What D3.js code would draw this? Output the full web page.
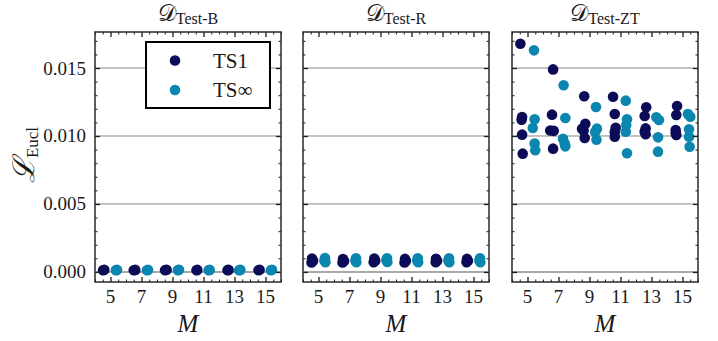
<!DOCTYPE html>
<html>
<head>
<meta charset="utf-8">
<script src="https://cdn.jsdelivr.net/npm/d3@7"></script>
<style>
  body { margin: 0; background: #fff; }
  text { font-family: "Liberation Serif", "DejaVu Serif", serif; fill: #1a1a1a; }
</style>
</head>
<body>
<div id="chart"></div>
<script>
// ---- data ----
const panelNames = ["Test-B", "Test-R", "Test-ZT"];
const mTicks = [5, 7, 9, 11, 13, 15];
const lossTicks = [0, 0.005, 0.010, 0.015];
const seriesNames = ["TS1", "TS\u221E"];
const seriesColors = ["#0b0b57", "#0b86ae"];

// [M (with small offset), loss]
const testB_TS1 = [[4.52, 0.00012], [4.6, 0.00016], [6.5, 0.00012], [6.6, 0.00015], [8.52, 0.00013], [8.62, 0.00016],
  [10.55, 0.00012], [10.6, 0.00015], [12.55, 0.00013], [12.62, 0.00015], [14.55, 0.00012], [14.62, 0.00016]];
const testB_TSinf = [[5.35, 0.00013], [5.42, 0.00015], [7.35, 0.00012], [7.42, 0.00015], [9.35, 0.00013], [9.42, 0.00016],
  [11.33, 0.00012], [11.4, 0.00015], [13.3, 0.00013], [13.38, 0.00015], [15.35, 0.00012], [15.42, 0.00016]];

const testR_TS1 = [[4.58, 0.00098], [4.65, 0.00082], [4.55, 0.0007], [6.58, 0.00095], [6.65, 0.0008], [6.55, 0.0007],
  [8.6, 0.00098], [8.66, 0.00083], [8.56, 0.00072], [10.58, 0.00096], [10.64, 0.00082], [10.55, 0.0007],
  [12.58, 0.00097], [12.65, 0.00082], [12.56, 0.00071], [14.58, 0.00096], [14.64, 0.00082], [14.55, 0.00072]];
const testR_TSinf = [[5.42, 0.00102], [5.38, 0.00085], [5.45, 0.00072], [7.42, 0.001], [7.38, 0.00085], [7.44, 0.00072],
  [9.42, 0.00101], [9.38, 0.00086], [9.44, 0.00073], [11.4, 0.001], [11.37, 0.00085], [11.43, 0.00072],
  [13.42, 0.001], [13.38, 0.00084], [13.44, 0.00071], [15.42, 0.00101], [15.38, 0.00085], [15.44, 0.00072]];

const testZT_TS1 = [
  [4.54, 0.01679], [4.65, 0.0114], [4.62, 0.0112], [4.65, 0.0101], [4.69, 0.0087],
  [6.65, 0.0149], [6.58, 0.01157], [6.47, 0.0104], [6.69, 0.01038], [6.65, 0.00907],
  [8.66, 0.01292], [8.73, 0.0109], [8.52, 0.01054], [8.62, 0.0104], [8.69, 0.00985],
  [10.52, 0.01289], [10.63, 0.01162], [10.69, 0.01061], [10.63, 0.0103], [10.63, 0.00995],
  [12.66, 0.01211], [12.56, 0.01147], [12.62, 0.01056], [12.56, 0.01032], [12.62, 0.01013],
  [14.65, 0.0122], [14.6, 0.01154], [14.56, 0.01044], [14.56, 0.0102], [14.6, 0.01008]];
const testZT_TSinf = [
  [5.42, 0.0163], [5.46, 0.01123], [5.34, 0.01059], [5.46, 0.00944], [5.5, 0.00895],
  [7.33, 0.01373], [7.44, 0.01132], [7.29, 0.0098], [7.4, 0.00944], [7.44, 0.00924],
  [9.42, 0.01213], [9.48, 0.01054], [9.37, 0.0103], [9.45, 0.00973],
  [11.34, 0.0126], [11.42, 0.01123], [11.37, 0.01081], [11.34, 0.01032], [11.42, 0.00873],
  [13.31, 0.01137], [13.48, 0.01118], [13.42, 0.0099], [13.42, 0.00885],
  [15.35, 0.01162], [15.5, 0.01142], [15.42, 0.01049], [15.42, 0.00995], [15.46, 0.00921]];

const panelData = [[testB_TS1, testB_TSinf], [testR_TS1, testR_TSinf], [testZT_TS1, testZT_TSinf]];

// ---- layout ----
const W = 718, H = 341;
const panelLeft = [95, 303, 512];
const panelW = 186, panelTop = 32, panelH = 250;

const svg = d3.select("#chart").append("svg")
  .attr("width", W).attr("height", H);

const x = d3.scaleLinear().domain([4, 16]).range([0, panelW]);
const y = d3.scaleLinear().domain([-0.00074, 0.01765]).range([panelH, 0]);

const xMinor = d3.range(4, 16.01, 0.5).filter(v => !mTicks.includes(v));
const yMinor = d3.range(0.001, 0.0176, 0.001).filter(v => !lossTicks.some(t => Math.abs(t - v) < 1e-9));

function tickAxis(g, axisFn, scale, values, size, width) {
  const ax = axisFn(scale).tickValues(values).tickFormat("").tickSizeInner(-size).tickSizeOuter(0);
  g.call(ax);
  g.select(".domain").remove();
  g.selectAll(".tick line").attr("stroke", "#1a1a1a").attr("stroke-width", width);
  g.selectAll(".tick text").remove();
}

panelData.forEach((series, i) => {
  const g = svg.append("g").attr("transform", `translate(${panelLeft[i]},${panelTop})`);

  // grid lines
  g.selectAll("line.grid")
    .data(lossTicks)
    .enter().append("line")
    .attr("class", "grid")
    .attr("x1", 0).attr("x2", panelW)
    .attr("y1", d => y(d)).attr("y2", d => y(d))
    .attr("stroke", d => d === 0 ? "#a8a8a8" : "#888")
    .attr("stroke-width", d => d === 0 ? 2 : 1);

  // points
  series.forEach((pts, s) => {
    g.selectAll("circle.s" + s)
      .data(pts)
      .enter().append("circle")
      .attr("class", "s" + s)
      .attr("cx", d => x(d[0]))
      .attr("cy", d => y(d[1]))
      .attr("r", 5.3)
      .attr("fill", seriesColors[s]);
  });

  // ticks on all four sides (inward)
  tickAxis(g.append("g").attr("transform", `translate(0,${panelH})`), d3.axisBottom, x, mTicks, 5, 1.3);
  tickAxis(g.append("g").attr("transform", `translate(0,${panelH})`), d3.axisBottom, x, xMinor, 2.5, 1);
  tickAxis(g.append("g"), d3.axisTop, x, mTicks, 5, 1.3);
  tickAxis(g.append("g"), d3.axisTop, x, xMinor, 2.5, 1);
  tickAxis(g.append("g"), d3.axisLeft, y, lossTicks, 5, 1.3);
  tickAxis(g.append("g"), d3.axisLeft, y, yMinor, 2.5, 1);
  tickAxis(g.append("g").attr("transform", `translate(${panelW},0)`), d3.axisRight, y, lossTicks, 5, 1.3);
  tickAxis(g.append("g").attr("transform", `translate(${panelW},0)`), d3.axisRight, y, yMinor, 2.5, 1);

  // frame
  g.append("rect")
    .attr("width", panelW).attr("height", panelH)
    .attr("fill", "none").attr("stroke", "#2a2a2a").attr("stroke-width", 1.5);

  // x tick labels
  g.selectAll("text.xt")
    .data(mTicks)
    .enter().append("text")
    .attr("class", "xt")
    .attr("x", d => x(d))
    .attr("y", panelH + 21)
    .attr("text-anchor", "middle")
    .style("font-size", "19px")
    .text(d => d);

  // x label
  g.append("text")
    .attr("x", panelW / 2)
    .attr("y", panelH + 50)
    .attr("text-anchor", "middle")
    .style("font-size", "25px")
    .style("font-style", "italic")
    .text("M");

  // title
  const t = g.append("text")
    .attr("x", panelW / 2)
    .attr("y", -11)
    .attr("text-anchor", "middle");
  t.append("tspan").style("font-size", "23px").text("\uD835\uDC9F");
  t.append("tspan").attr("dy", 3).style("font-size", "16px").text(panelNames[i]);

  if (i === 0) {
    // y tick labels
    g.selectAll("text.yt")
      .data(lossTicks)
      .enter().append("text")
      .attr("class", "yt")
      .attr("x", -9)
      .attr("y", d => y(d) + 6.5)
      .attr("text-anchor", "end")
      .style("font-size", "19px")
      .text(d => d3.format(".3f")(d));

    // legend
    const lg = g.append("g").attr("transform", "translate(51,10)");
    lg.append("rect")
      .attr("width", 124).attr("height", 66)
      .attr("fill", "#fff").attr("stroke", "#000").attr("stroke-width", 2);
    seriesNames.forEach((name, s) => {
      lg.append("circle")
        .attr("cx", 29).attr("cy", 18.5 + s * 29.5).attr("r", 5.3)
        .attr("fill", seriesColors[s]);
      lg.append("text")
        .attr("x", 67).attr("y", 25.5 + s * 29.5)
        .style("font-size", "21px")
        .text(name);
    });
  }
});

// y axis label
const yl = svg.append("text")
  .attr("transform", "translate(34,155) rotate(-90)")
  .attr("text-anchor", "middle");
yl.append("tspan").style("font-size", "30px").style("font-style", "italic").text("\u2112");
yl.append("tspan").attr("dy", 4).style("font-size", "17px").text("Eucl");
</script>
</body>
</html>
